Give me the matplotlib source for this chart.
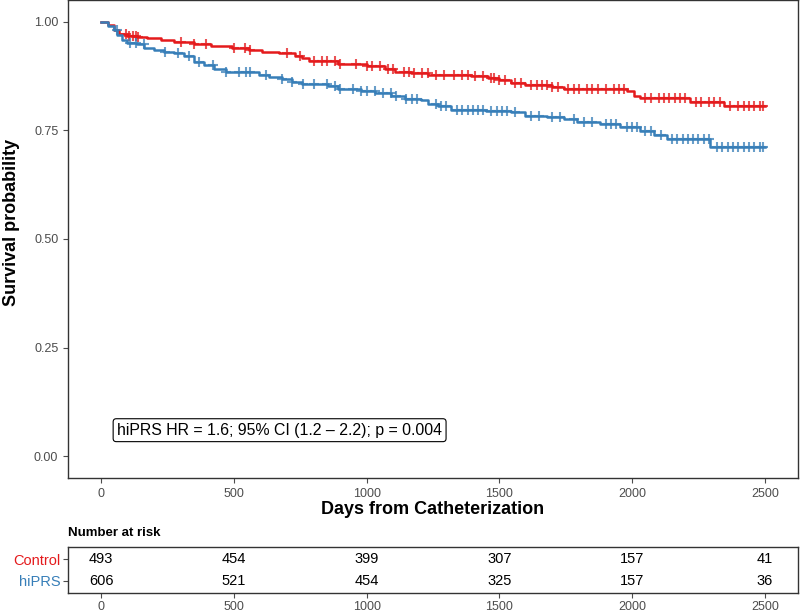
import numpy as np
import matplotlib
matplotlib.use('Agg')
import matplotlib.pyplot as plt

plt.rcParams['font.family'] = ['Liberation Sans', 'DejaVu Sans']

# Kaplan-Meier step points (day, survival)
ctrl_days = [0, 24, 50, 69, 99, 136, 174, 226, 275, 350, 414, 492, 556, 605, 668, 732, 755,
             781, 893, 1000, 1070, 1107, 1167, 1231, 1392, 1456, 1500, 1542, 1595, 1700, 1745,
             1981, 2007, 2030, 2217, 2348, 2500]
ctrl_surv = [1.0, 0.993, 0.982, 0.971, 0.968, 0.966, 0.962, 0.958, 0.954, 0.948, 0.945, 0.940,
             0.935, 0.931, 0.927, 0.920, 0.916, 0.910, 0.902, 0.898, 0.892, 0.885, 0.881,
             0.878, 0.876, 0.870, 0.865, 0.859, 0.855, 0.850, 0.846, 0.841, 0.830, 0.824,
             0.815, 0.806, 0.806]

hi_days = [0, 24, 50, 61, 80, 99, 136, 162, 200, 237, 275, 312, 350, 387, 425, 470, 594, 631,
           680, 718, 755, 856, 893, 980, 1032, 1092, 1145, 1205, 1231, 1269, 1317, 1450, 1542,
           1595, 1681, 1745, 1793, 1880, 1955, 2030, 2082, 2131, 2292, 2500]
hi_surv = [1.0, 0.991, 0.981, 0.970, 0.958, 0.950, 0.948, 0.940, 0.935, 0.930, 0.927, 0.920,
           0.908, 0.901, 0.892, 0.884, 0.878, 0.872, 0.869, 0.862, 0.856, 0.851, 0.846,
           0.841, 0.836, 0.828, 0.823, 0.821, 0.810, 0.805, 0.797, 0.795, 0.792, 0.784,
           0.780, 0.775, 0.769, 0.764, 0.757, 0.749, 0.740, 0.729, 0.711, 0.711]

# censored observations (days)
ctrl_cens = [95, 105, 118, 130, 140, 300, 350, 395, 500, 540, 560, 700, 750, 800, 830, 850,
             880, 900, 960, 1000, 1020, 1050, 1080, 1100, 1140, 1160, 1180, 1210, 1230, 1260,
             1290, 1330, 1360, 1380, 1410, 1440, 1470, 1480, 1500, 1520, 1560, 1580, 1620,
             1640, 1660, 1680, 1700, 1720, 1760, 1780, 1800, 1830, 1850, 1870, 1900, 1930,
             1950, 1970, 2050, 2070, 2100, 2120, 2140, 2160, 2180, 2200, 2240, 2260, 2290,
             2310, 2330, 2370, 2400, 2420, 2440, 2460, 2480, 2495]
hi_cens = [60, 110, 130, 160, 240, 290, 330, 370, 420, 470, 520, 545, 560, 620, 680, 720, 760,
           800, 850, 880, 900, 950, 980, 1000, 1030, 1060, 1090, 1110, 1150, 1170, 1190,
           1260, 1280, 1300, 1340, 1360, 1380, 1400, 1420, 1440, 1470, 1490, 1510, 1530,
           1560, 1620, 1650, 1700, 1730, 1780, 1820, 1850, 1900, 1920, 1940, 1980, 2000,
           2020, 2050, 2070, 2110, 2150, 2170, 2190, 2210, 2230, 2250, 2270, 2290, 2320,
           2340, 2360, 2380, 2400, 2420, 2440, 2460, 2480, 2495]

groups = ['Control', 'hiPRS']
colors = ['#E41A1C', '#377EB8']
risk_times = [0, 500, 1000, 1500, 2000, 2500]
risk_ctrl = [493, 454, 399, 307, 157, 41]
risk_hi = [606, 521, 454, 325, 157, 36]
annot = 'hiPRS HR = 1.6; 95% CI (1.2 – 2.2); p = 0.004'

grey = '#4D4D4D'


def surv_at(days, surv, t):
    idx = np.searchsorted(days, t, side='right') - 1
    return np.array(surv)[idx]


fig = plt.figure(figsize=(8, 6.11), dpi=100)
ax = fig.add_axes([0.085, 0.2177, 0.9125, 0.7823])

for d, s, c, col in [(ctrl_days, ctrl_surv, ctrl_cens, colors[0]),
                     (hi_days, hi_surv, hi_cens, colors[1])]:
    ax.step(d, s, where='post', color=col, lw=1.8, zorder=3)
    ax.plot(c, surv_at(d, s, c), '+', color=col, ms=7, mew=1.5, alpha=0.75, zorder=3)

ax.set_xlim(-125, 2625)
ax.set_ylim(-0.05, 1.05)
ax.set_xticks(risk_times)
ax.set_yticks([0, 0.25, 0.5, 0.75, 1.0])
ax.set_yticklabels(['0.00', '0.25', '0.50', '0.75', '1.00'])
ax.tick_params(colors=grey, labelsize=9, length=3.5, width=0.8, labelcolor=grey)
for sp in ax.spines.values():
    sp.set_color('#333333')
    sp.set_linewidth(1.0)
ax.set_xlabel('Days from Catheterization', fontsize=13, fontweight='bold', labelpad=1)
ax.set_ylabel('Survival probability', fontsize=13, fontweight='bold')
ax.yaxis.set_label_coords(-0.066, 0.535)

ax.text(60, 0.06, annot, fontsize=11.4, ha='left', va='center', zorder=4,
        bbox=dict(boxstyle='round,pad=0.25,rounding_size=0.2', fc='white', ec='black', lw=0.8))

# risk table
tab = fig.add_axes([0.085, 0.0295, 0.9125, 0.0752])
tab.set_xlim(-125, 2625)
tab.set_ylim(0.45, 2.55)
for t, n in zip(risk_times, risk_ctrl):
    tab.text(t, 2, str(n), ha='center', va='center', fontsize=10.5)
for t, n in zip(risk_times, risk_hi):
    tab.text(t, 1, str(n), ha='center', va='center', fontsize=10.5)
tab.set_xticks(risk_times)
tab.set_yticks([2, 1])
tab.tick_params(axis='x', colors=grey, labelsize=9, length=3.5, width=0.8, labelcolor=grey, pad=2)
tab.tick_params(axis='y', colors=grey, length=3.5, width=0.8, pad=2)
tab.set_yticklabels(groups, fontsize=10.5)
for lab, col in zip(tab.get_yticklabels(), colors):
    lab.set_color(col)
for sp in tab.spines.values():
    sp.set_color('#333333')
    sp.set_linewidth(1.0)
fig.text(0.085, 0.1277, 'Number at risk', fontsize=9.5, fontweight='bold', ha='left', va='center')

fig.savefig('out.png', dpi=100)
